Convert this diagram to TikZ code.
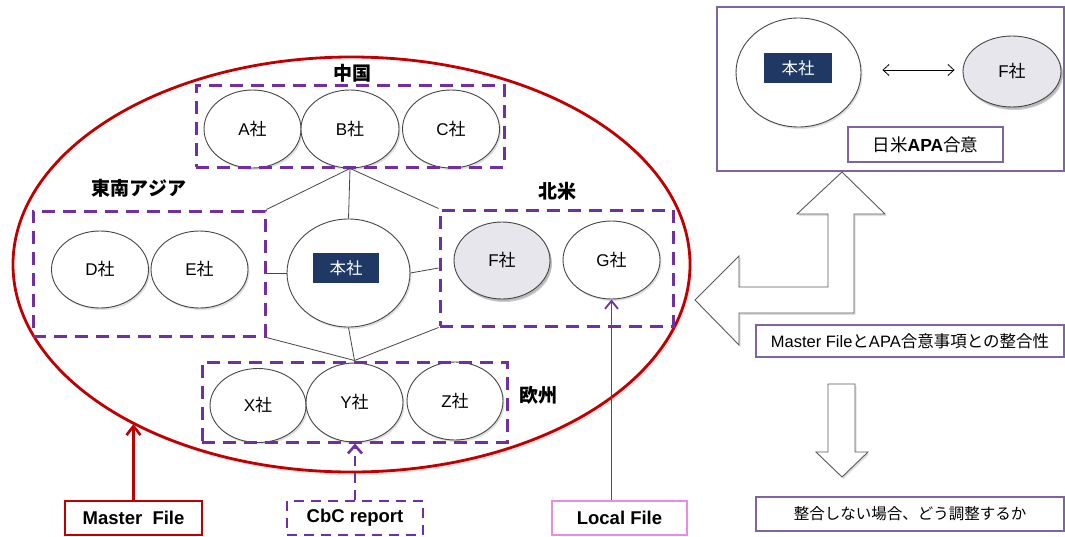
\documentclass[tikz,border=0pt]{standalone}
\usepackage{fontspec}
\setmainfont{Liberation Sans}
\newfontfamily\jp{Noto Sans CJK JP}
\usetikzlibrary{shapes.geometric,shadows,arrows.meta}
\definecolor{darkred}{RGB}{192,0,0}
\definecolor{regpurple}{RGB}{112,48,160}
\definecolor{panelpurple}{RGB}{128,100,162}
\definecolor{navy}{RGB}{31,56,100}
\definecolor{fgray}{RGB}{230,230,236}
\definecolor{pinkedge}{RGB}{232,140,232}
\definecolor{linegray}{RGB}{70,70,70}
\newcommand{\sha}{{\jp 社}}
\tikzset{
  softshadow/.style={drop shadow={opacity=0.25,shadow xshift=1.5pt,shadow yshift=-2pt}},
  co/.style={ellipse,draw=linegray,line width=0.9pt,fill=white,inner sep=0pt,
    minimum width=97pt,minimum height=78pt,font=\fontsize{17}{19}\selectfont,softshadow},
  region/.style={draw=regpurple,line width=3pt,dash pattern=on 13pt off 8pt,inner sep=0pt},
  reglabel/.style={font=\fontsize{19}{21}\selectfont\jp\bfseries,inner sep=0pt},
  hqtag/.style={fill=navy,text=white,inner sep=0pt,minimum width=66pt,minimum height=30pt,
    font=\fontsize{16.5}{18}\selectfont\jp},
  conn/.style={draw=linegray,line width=0.8pt},
  panelbox/.style={draw=panelpurple,line width=1.3pt,fill=white,inner sep=0pt},
  filebox/.style={line width=2.6pt,fill=white,inner sep=0pt,minimum height=34pt,
    font=\fontsize{18.5}{20}\selectfont\bfseries},
  bigarrow/.style={draw=black!65,line width=0.9pt,fill=white,softshadow}
}
\begin{document}
\begin{tikzpicture}[x=1pt,y=-1pt]
\useasboundingbox (0,0) rectangle (1065,536);
% big group ellipse
\node[ellipse,draw=darkred,line width=2.8pt,fill=white,minimum width=677pt,minimum height=415pt,
  inner sep=0pt,drop shadow={opacity=0.2,shadow xshift=2pt,shadow yshift=-3pt}] (group) at (351.5,264.5) {};
% region labels
\node[reglabel] (lcn) at (352,73) {中国};
\node[reglabel] (lse) at (139,188) {東南アジア};
\node[reglabel] (lna) at (557,191) {北米};
\node[reglabel] (leu) at (538,395) {欧州};
% companies
\node[co] (A) at (252.5,129) {A\sha};
\node[co,minimum width=98pt] (B) at (350,129) {B\sha};
\node[co] (C) at (451,129) {C\sha};
\node[co,minimum height=77pt] (D) at (100,269.5) {D\sha};
\node[co,minimum height=77pt] (E) at (199.5,269.5) {E\sha};
\node[co,fill=fgray,minimum width=96pt,minimum height=77pt,drop shadow={opacity=0.4,shadow xshift=2pt,shadow yshift=-3pt}] (F) at (502,260.5) {F\sha};
\node[co] (G) at (611.5,260) {G\sha};
\node[co,minimum width=96pt,minimum height=74pt] (X) at (258,405.5) {X\sha};
\node[co,minimum height=79pt] (Y) at (354.5,402.5) {Y\sha};
\node[co,minimum width=96pt] (Z) at (455,401) {Z\sha};
\node[co,minimum width=123pt,minimum height=108pt] (hq) at (348.5,273) {};
\node[hqtag] (hqtag) at (346,268) {本社};
% region boxes
\node[region,minimum width=308pt,minimum height=82pt] (cn) at (350,126) {};
\node[region,minimum width=232pt,minimum height=125pt] (se) at (149,273.5) {};
\node[region,minimum width=233pt,minimum height=116pt] (na) at (556.5,268) {};
\node[region,minimum width=305pt,minimum height=80pt] (eu) at (354.5,402) {};
% structure lines
\draw[conn] (B.south) -- (se.north east);
\draw[conn] (B.south) -- (hq.north);
\draw[conn] (B.south) -- (na.north west);
\draw[conn] (hq.west) -- (hq.west -| se.east);
\draw[conn] (hq.east) -- (na.west);
\draw[conn] (hq.south) -- (eu.north);
\draw[conn] (se.south east) -- (eu.north);
\draw[conn] (na.south west) -- (eu.north);
% file boxes
\node[filebox,draw=darkred,minimum width=137pt] (mf) at (133.5,518) {Master\ \ File};
\node[filebox,draw=regpurple,dash pattern=on 10pt off 7pt,minimum width=136pt] (cbc) at (355,518) {CbC report};
\node[filebox,draw=pinkedge,minimum width=135pt] (lf) at (619.5,518) {Local File};
\draw[darkred,line width=2.6pt,-{Straight Barb[length=9pt,width=14pt]}] (mf.north) -- (mf.north |- group.216);
\draw[regpurple,line width=2.6pt,dash pattern=on 10pt off 7pt,-{Straight Barb[length=8pt,width=14pt]}] (cbc.north) -- (cbc.north |- eu.south);
\draw[regpurple,line width=1.8pt,-{Straight Barb[length=8pt,width=13pt]}] (G.south |- lf.north) -- (G.south);
% right panel
\node[panelbox,minimum width=347pt,minimum height=164pt] (panel) at (890.5,89) {};
\node[co,minimum width=125pt,minimum height=109pt] (hq2) at (798.5,72.5) {};
\node[hqtag,minimum width=68pt] (hqtag2) at (798,68) {本社};
\node[co,fill=fgray,minimum width=98pt,minimum height=71pt,drop shadow={opacity=0.4,shadow xshift=2pt,shadow yshift=-3pt}] (F2) at (1012,71.5) {F\sha};
\draw[black,line width=0.8pt,{Straight Barb[length=6pt,width=11pt]}-{Straight Barb[length=6pt,width=11pt]}]
  ([xshift=21pt]hq2.east |- 0,70) -- ([xshift=-8pt]F2.west |- 0,70);
\node[panelbox,minimum width=155pt,minimum height=35pt,font=\fontsize{17.5}{20}\selectfont] (apa) at (925.5,144.5)
  {{\jp 日米}\textbf{APA}{\jp 合意}};
% bent arrow
\draw[bigarrow] (842,172) -- (885,214) -- (854,214) -- (854,313) -- (739,313) -- (739,345) -- (695,300)
  -- (739,256) -- (739,287) -- (828,287) -- (828,214) -- (797,214) -- cycle;
\node[panelbox,minimum width=308pt,minimum height=32pt,font=\fontsize{16.5}{19}\selectfont] (cons) at (910,341)
  {Master File{\jp と}APA{\jp 合意事項との整合性}};
% down arrow
\draw[bigarrow] (828,384) -- (855,384) -- (855,452) -- (868,452) -- (842,477) -- (816,452) -- (828,452) -- cycle;
\node[panelbox,minimum width=308pt,minimum height=34pt,font=\fontsize{15.5}{18}\selectfont\jp] (adj) at (910,514)
  {整合しない場合、どう調整するか};
\end{tikzpicture}
\end{document}
